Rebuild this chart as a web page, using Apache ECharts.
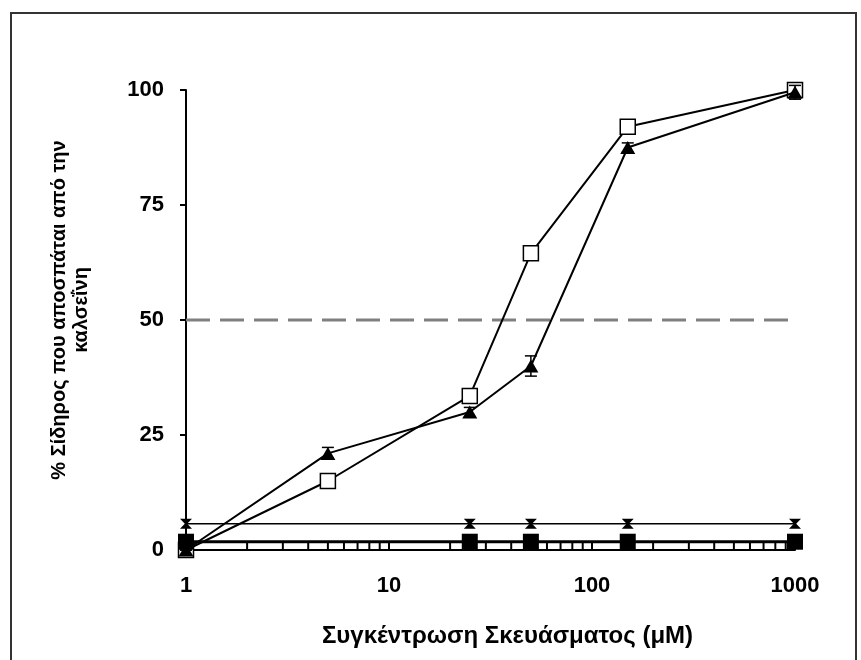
<!DOCTYPE html>
<html><head><meta charset="utf-8">
<script src="https://cdn.jsdelivr.net/npm/echarts@6/dist/echarts.min.js"></script>
<style>html,body{margin:0;padding:0;background:#fff}#c{width:861px;height:660px}</style>
</head><body><div id="c"></div>
<script>
const xTickLabels = [1, 10, 100, 1000];
const yTickLabels = [0, 25, 50, 75, 100];
const openSquareX = [1, 5, 25, 50, 150, 1000];
const openSquareY = [0, 15, 33.5, 64.5, 92, 100];
const triangleX = [1, 5, 25, 50, 150, 1000];
const triangleY = [0, 21, 30, 40, 87.5, 99.5];
const triangleErrLow = [0, 20, 29, 37.8, 86.5, 98];
const triangleErrHigh = [0, 22.3, 31, 42.2, 88.5, 101];
const crossX = [1, 25, 50, 150, 1000];
const crossY = [5.7, 5.7, 5.7, 5.7, 5.7];
const filledSquareX = [1, 25, 50, 150, 1000];
const filledSquareY = [1.8, 1.8, 1.8, 1.8, 1.8];
const halfLineY = 50;
const minorTickX = [2,3,4,5,6,7,8,9,20,30,40,50,60,70,80,90,200,300,400,500,600,700,800,900];

const zip = (xs, ys) => xs.map((x, i) => [x, ys[i]]);
const font = 'Liberation Sans, Arial, sans-serif';

const chart = echarts.init(document.getElementById('c'), null, {renderer: 'canvas'});
chart.setOption({
  animation: false,
  backgroundColor: '#fff',
  graphic: [{
    type: 'rect', shape: {x: 11, y: 13, width: 845, height: 700},
    style: {fill: 'none', stroke: '#333', lineWidth: 2}, silent: true
  }],
  grid: {left: 186, right: 66, top: 90, bottom: 110},
  xAxis: {
    type: 'log', logBase: 10, min: 1, max: 1000,
    name: 'Συγκέντρωση Σκευάσματος (μM)', nameLocation: 'middle', nameGap: 74,
    nameTextStyle: {fontFamily: font, fontWeight: 'bold', fontSize: 24, color: '#000', padding: [0, 0, 0, 34]},
    axisLine: {lineStyle: {color: '#000', width: 2}},
    axisTick: {inside: true, length: 8, lineStyle: {color: '#000', width: 2}},
    axisLabel: {margin: 25, fontFamily: font, fontWeight: 'bold', fontSize: 22, color: '#000',
      customValues: xTickLabels, formatter: v => String(v)},
    splitLine: {show: false}
  },
  yAxis: {
    type: 'value', min: 0, max: 100, interval: 25,
    name: '% Σίδηρος που αποσπάται από την\nκαλσεΐνη', nameLocation: 'middle', nameGap: 94, nameRotate: 90,
    nameTextStyle: {fontFamily: font, fontWeight: 'bold', fontSize: 20, color: '#000', lineHeight: 22,
      align: 'center', padding: [0, 0, 0, 20]},
    axisLine: {show: true, lineStyle: {color: '#000', width: 2}},
    axisTick: {show: true, length: 6, lineStyle: {color: '#000', width: 2}},
    axisLabel: {margin: 22, fontFamily: font, fontWeight: 'bold', fontSize: 22, color: '#000'},
    splitLine: {show: false}
  },
  series: [
    {
      type: 'line', data: [[1, halfLineY], [1000, halfLineY]], symbol: 'none', z: 1,
      lineStyle: {color: '#808080', width: 3, type: [24, 10]}
    },
    {
      type: 'custom', z: 2, silent: true,
      data: minorTickX.map(v => [v, 0]),
      renderItem: (params, api) => {
        const p = api.coord([api.value(0), 0]);
        return {type: 'line', shape: {x1: p[0], y1: p[1], x2: p[0], y2: p[1] - 8},
          style: {stroke: '#000', lineWidth: 2}};
      }
    },
    {
      type: 'line', data: zip(crossX, crossY), z: 3,
      lineStyle: {color: '#000', width: 1.5},
      symbol: 'path://M0,0 L10,0 L6,5 L10,10 L0,10 L4,5 Z', symbolSize: [12, 10],
      itemStyle: {color: '#000'}
    },
    {
      type: 'line', data: zip(openSquareX, openSquareY), z: 5,
      lineStyle: {color: '#000', width: 2},
      symbol: 'rect', symbolSize: 15, itemStyle: {color: '#fff', borderColor: '#000', borderWidth: 1.5}
    },
    {
      type: 'line', data: zip(filledSquareX, filledSquareY), z: 6,
      lineStyle: {color: '#000', width: 3},
      symbol: 'rect', symbolSize: 16, itemStyle: {color: '#000'}
    },
    {
      type: 'custom', z: 7, silent: true,
      data: triangleX.map((x, i) => [x, triangleErrLow[i], triangleErrHigh[i]]),
      renderItem: (params, api) => {
        const lo = api.coord([api.value(0), api.value(1)]);
        const hi = api.coord([api.value(0), api.value(2)]);
        const w = 6;
        return {type: 'group', children: [
          {type: 'line', shape: {x1: lo[0], y1: lo[1], x2: hi[0], y2: hi[1]}, style: {stroke: '#000', lineWidth: 1.5}},
          {type: 'line', shape: {x1: lo[0]-w, y1: lo[1], x2: lo[0]+w, y2: lo[1]}, style: {stroke: '#000', lineWidth: 1.5}},
          {type: 'line', shape: {x1: hi[0]-w, y1: hi[1], x2: hi[0]+w, y2: hi[1]}, style: {stroke: '#000', lineWidth: 1.5}}
        ]};
      }
    },
    {
      type: 'line', data: zip(triangleX, triangleY), z: 8,
      lineStyle: {color: '#000', width: 2},
      symbol: 'triangle', symbolSize: [15, 13], itemStyle: {color: '#000'}
    }
  ]
});
</script></body></html>
